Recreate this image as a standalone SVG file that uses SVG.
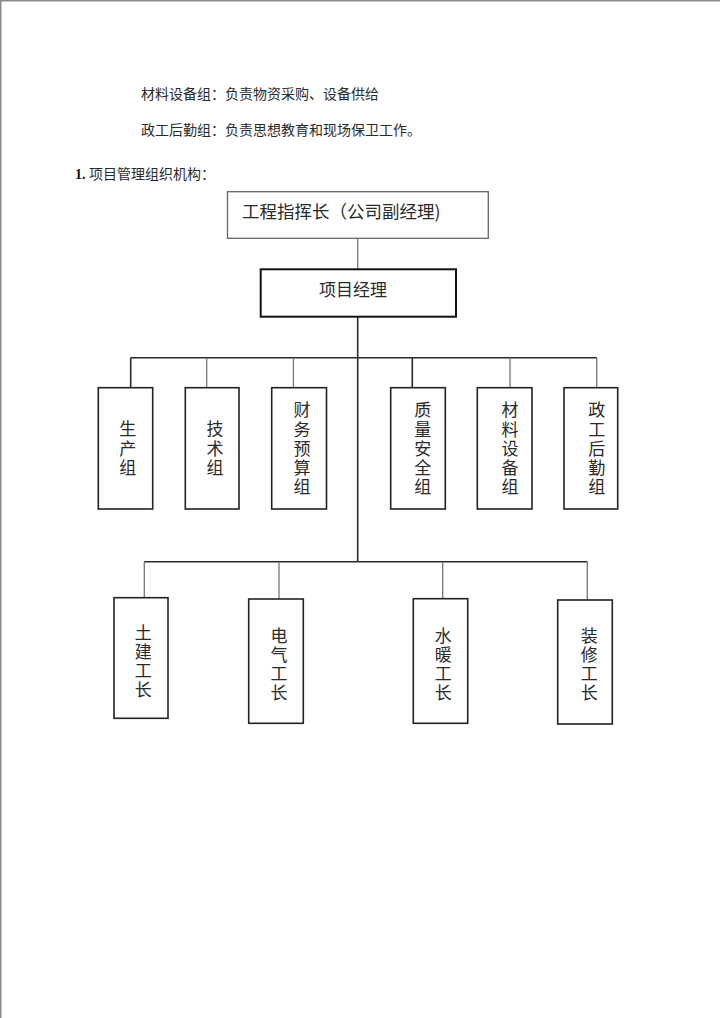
<svg xmlns="http://www.w3.org/2000/svg" width="720" height="1018" viewBox="0 0 720 1018">
<style>
.t{font-family:"Noto Sans CJK SC","Noto Sans CJK JP",sans-serif;fill:#2a2a2a}
.para{font-size:14px}
.vt{font-size:17px;writing-mode:vertical-rl;text-orientation:upright;letter-spacing:2.25px}
.box{fill:#fff;stroke:#222;stroke-width:1.6}
.boxtop{fill:#fff;stroke:#666;stroke-width:1.3}
.boxpm{fill:#fff;stroke:#111;stroke-width:2}
.dk{stroke:#2a2a2a;stroke-width:1.6;fill:none}
.lt{stroke:#777;stroke-width:1.3;fill:none}
.edge{stroke:#8a8a8a;stroke-width:1.5}
</style>
<rect width="720" height="1018" fill="#fff"/>
<line class="edge" x1="0.75" y1="0" x2="0.75" y2="1018"/>
<line class="edge" x1="0" y1="0.75" x2="720" y2="0.75"/>

<g id="intro">
<text class="t para" x="141" y="98.5">材料设备组：负责物资采购、设备供给</text>
<text class="t para" x="141" y="135.3">政工后勤组：负责思想教育和现场保卫工作。</text>
<text x="75" y="178.6" style="font-family:'Liberation Serif',serif;font-size:14px;font-weight:bold;fill:#111">1.</text>
<text class="t para" x="89" y="178.6">项目管理组织机构：</text>
</g>

<g id="connectors">
<line class="lt" x1="357.7" y1="238.3" x2="357.7" y2="269.3"/>
<line class="dk" x1="357.7" y1="316.7" x2="357.7" y2="561.7"/>
<line class="dk" x1="130.7" y1="357.7" x2="596.7" y2="357.7"/>
<line class="dk" x1="130.7" y1="357.7" x2="130.7" y2="387.7"/>
<line class="lt" x1="206.7" y1="357.7" x2="206.7" y2="387.7"/>
<line class="lt" x1="293.4" y1="357.7" x2="293.4" y2="387.7"/>
<line class="dk" x1="412.3" y1="357.7" x2="412.3" y2="387.7"/>
<line class="lt" x1="510" y1="357.7" x2="510" y2="387.7"/>
<line class="lt" x1="596.7" y1="357.7" x2="596.7" y2="387.7"/>
<line class="dk" x1="144.3" y1="561.7" x2="587.3" y2="561.7"/>
<line class="lt" x1="144.3" y1="561.7" x2="144.3" y2="597.7"/>
<line class="lt" x1="279" y1="561.7" x2="279" y2="599"/>
<line class="lt" x1="442.7" y1="561.7" x2="442.7" y2="598.7"/>
<line class="lt" x1="587.3" y1="561.7" x2="587.3" y2="600"/>
</g>

<g id="commander">
<rect class="boxtop" x="227.5" y="191.7" width="260.8" height="46.6"/>
<text class="t" x="242" y="217.5" style="font-size:17.5px">工程指挥长（公司副经理)</text>
</g>

<g id="pm">
<rect class="boxpm" x="260.7" y="269.3" width="195.3" height="47.4"/>
<text class="t" x="319" y="295.5" style="font-size:17px">项目经理</text>
</g>

<g id="production">
<rect class="box" x="98.3" y="387.7" width="54.4" height="121.3"/>
<text class="t vt" x="127.7" y="420.5">生产组</text>
</g>

<g id="technical">
<rect class="box" x="185.3" y="387.7" width="53.7" height="121.3"/>
<text class="t vt" x="215" y="420.5">技术组</text>
</g>

<g id="finance">
<rect class="box" x="271.7" y="387.7" width="54.8" height="121.3"/>
<text class="t vt" x="302" y="401.5">财务预算组</text>
</g>

<g id="quality">
<rect class="box" x="390.7" y="387.7" width="54.6" height="121.3"/>
<text class="t vt" x="422.7" y="401.5">质量安全组</text>
</g>

<g id="materials">
<rect class="box" x="477.3" y="387.7" width="54.7" height="121.3"/>
<text class="t vt" x="510" y="401.5">材料设备组</text>
</g>

<g id="logistics">
<rect class="box" x="564" y="387.7" width="53.7" height="121.3"/>
<text class="t vt" x="596.7" y="401.5">政工后勤组</text>
</g>

<g id="civil">
<rect class="box" x="114" y="597.7" width="54" height="120.6"/>
<text class="t vt" x="143.3" y="624.5" style="letter-spacing:2px">土建工长</text>
</g>

<g id="electrical">
<rect class="box" x="248.7" y="599" width="54.6" height="124.3"/>
<text class="t vt" x="279" y="627.2" style="letter-spacing:2px">电气工长</text>
</g>

<g id="plumbing">
<rect class="box" x="413.3" y="598.7" width="54.4" height="124.6"/>
<text class="t vt" x="443.3" y="627.2" style="letter-spacing:2px">水暖工长</text>
</g>

<g id="decoration">
<rect class="box" x="557.7" y="600" width="54.6" height="124"/>
<text class="t vt" x="589.3" y="627.2" style="letter-spacing:2px">装修工长</text>
</g>
</svg>
